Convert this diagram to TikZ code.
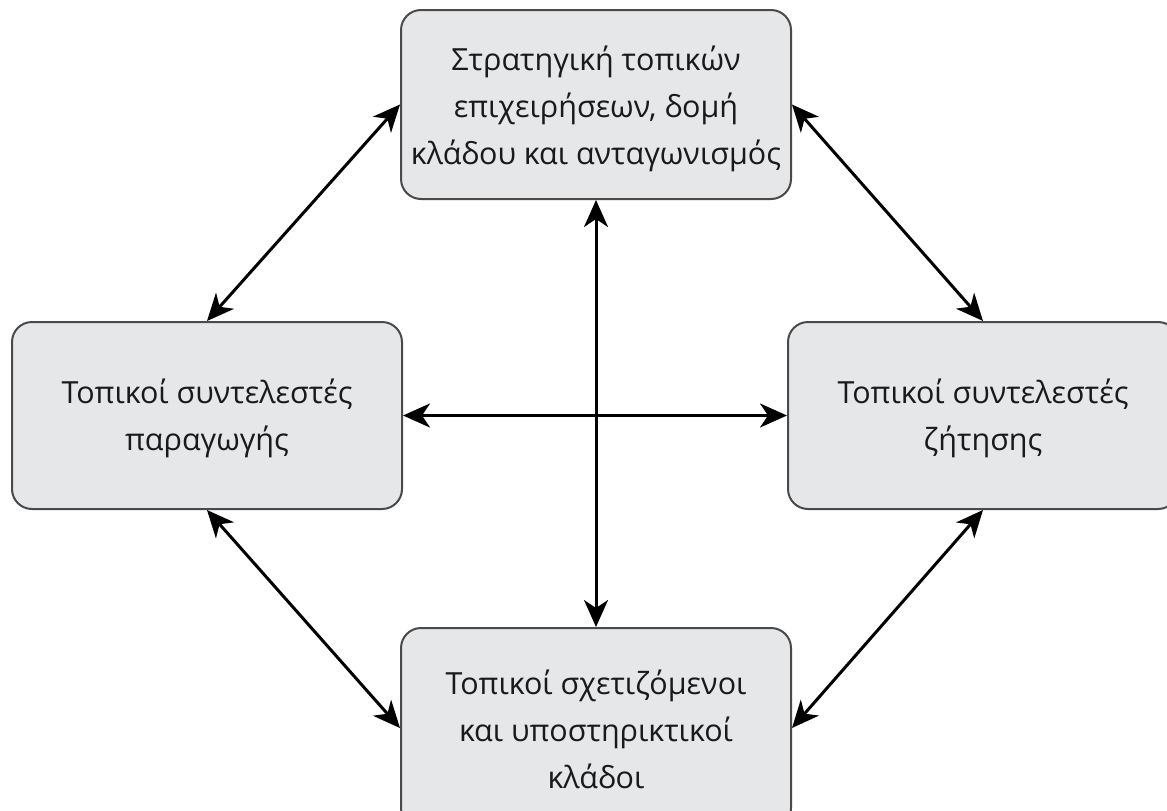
\documentclass[tikz,border=0pt]{standalone}
\usepackage{fontspec}
\setmainfont{Open Sans}
\usetikzlibrary{arrows.meta}
\definecolor{boxfill}{HTML}{E6E7E8}
\definecolor{boxline}{HTML}{4A4A4A}
\definecolor{ink}{HTML}{1A1A1A}
\tikzset{
  factor/.style={draw=boxline, line width=2pt, fill=boxfill, rounded corners=20pt,
    minimum width=390pt, inner sep=0pt},
  caption/.style={align=center, inner sep=0pt, text=ink,
    font=\fontsize{30.5pt}{47pt}\selectfont},
  tip/.style={Stealth[length=27pt,width=24pt,inset=8pt]},
  link/.style={line width=3pt, {Stealth[length=27pt,width=24pt,inset=8pt]}-{Stealth[length=27pt,width=24pt,inset=8pt]}}
}
\begin{document}
\begin{tikzpicture}[x=1pt,y=-1pt]
\useasboundingbox (0,0) rectangle (1167,811);
\clip (0,0) rectangle (1167,811);
% the four boxes
\node[factor, minimum height=189pt] (T) at (596,104.5) {};
\node[factor, minimum height=187pt] (L) at (207,415.5) {};
\node[factor, minimum height=187pt] (R) at (983,415.5) {};
\node[factor, minimum height=200pt] (B) at (596,728) {};
% their texts
\node[caption] (Ttext) at ([yshift=-4pt]T.center)
  {Στρατηγική τοπικών\\επιχειρήσεων, δομή\\κλάδου και ανταγωνισμός};
\node[caption] (Ltext) at ([yshift=-3pt]L.center)
  {Τοπικοί συντελεστές\\παραγωγής};
\node[caption] (Rtext) at ([yshift=-3pt]R.center)
  {Τοπικοί συντελεστές\\ζήτησης};
\node[caption] (Btext) at ([yshift=-1pt]B.center)
  {Τοπικοί σχετιζόμενοι\\και υποστηρικτικοί\\κλάδοι};
% two-way links
\draw[link] (L.north) -- (T.west);
\draw[link] (T.east) -- (R.north);
\draw[link] (L.south) -- (B.west);
\draw[link] (B.east) -- (R.south);
\draw[link] (T.south) -- (B.north);
\draw[link] (L.east) -- (R.west);
\end{tikzpicture}
\end{document}
